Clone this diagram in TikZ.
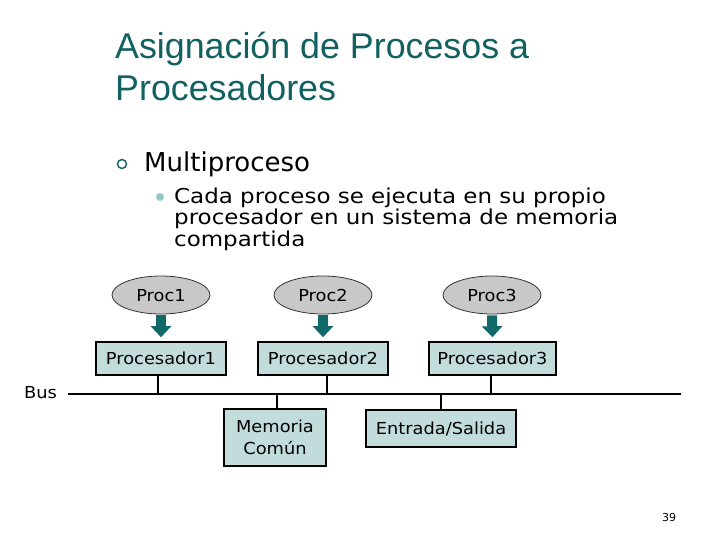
\documentclass[tikz,border=0pt]{standalone}
\usepackage{fontspec}
\setmainfont{DejaVu Sans}
\newfontfamily\wideA[FakeStretch=1.12]{DejaVu Sans}
\newfontfamily\wideB[FakeStretch=1.08]{DejaVu Sans}
\newfontfamily\titlefont{Liberation Sans}
\usetikzlibrary{shapes.geometric,arrows.meta}
\definecolor{titlecol}{RGB}{18,96,96}
\definecolor{arrowcol}{RGB}{16,104,104}
\definecolor{boxfill}{RGB}{194,220,220}
\definecolor{ellfill}{RGB}{200,200,200}
\definecolor{dotcol}{RGB}{150,200,200}
\tikzset{
  titletext/.style={anchor=base west, inner sep=0pt, text=titlecol, font=\titlefont\fontsize{35.8}{40}\selectfont},
  lvlone/.style={anchor=base west, inner sep=0pt, font=\fontsize{26}{30}\selectfont},
  lvltwo/.style={anchor=base west, inner sep=0pt, font=\wideA\fontsize{20.5}{22}\selectfont},
  procell/.style={ellipse, draw=black!80, line width=0.8pt, fill=ellfill, minimum width=98pt, minimum height=38pt, inner sep=0pt, text height=12pt, text depth=0pt, font=\wideB\fontsize{16.5}{18}\selectfont},
  hwbox/.style={rectangle, draw=black, line width=1.6pt, fill=boxfill, minimum height=33pt, inner sep=0pt, font=\wideB\fontsize{16.5}{18}\selectfont},
  blockarrow/.style={draw=arrowcol, line width=10pt, -{Triangle[width=20pt,length=11pt]}},
  wire/.style={line width=1.8pt, black},
}
\begin{document}
\begin{tikzpicture}[x=1pt,y=-1pt]
\useasboundingbox (0,0) rectangle (720,540);
% title
\node[titletext] (t1) at (115,59) {Asignación de Procesos a};
\node[titletext] (t2) at (115,101) {Procesadores};
% bullets
\node[circle, draw=titlecol, line width=1.4pt, minimum size=9pt, inner sep=0pt] (b0) at (122,164) {};
\node[lvlone] (m) at (144,172) {Multiproceso};
\node[circle, fill=dotcol, minimum size=8pt, inner sep=0pt] (b1dot) at (160,197) {};
\node[lvltwo] (l1) at (174,204) {Cada proceso se ejecuta en su propio};
\node[lvltwo] (l2) at (174,225) {procesador en un sistema de memoria};
\node[lvltwo] (l3) at (174,246) {compartida};
% processes
\node[procell] (p1) at (161,295) {Proc1};
\node[procell] (p2) at (323,295) {Proc2};
\node[procell] (p3) at (492,295) {Proc3};
% processors
\node[hwbox, minimum width=130pt] (c1) at (161,358.5) {Procesador1};
\node[hwbox, minimum width=130pt] (c2) at (323,358.5) {Procesador2};
\node[hwbox, minimum width=127pt] (c3) at (492.5,358.5) {Procesador3};
% block arrows
\draw[blockarrow] ([yshift=-1pt]p1.south) -- ([yshift=4pt]c1.north);
\draw[blockarrow] ([yshift=-1pt]p2.south) -- ([yshift=4pt]c2.north);
\draw[blockarrow] ([yshift=-1pt]p3.south) -- ([yshift=4pt]c3.north);
% bus
\coordinate (busL) at (68,394);
\coordinate (busR) at (681,394);
\node[anchor=base west, inner sep=0pt, font=\wideB\fontsize{16.5}{18}\selectfont] (buslbl) at (24,398) {Bus};
\draw[line width=2.8pt] (busL) -- (busR);
% memory / io
\node[hwbox, minimum width=102pt, minimum height=57pt, align=center, font=\wideB\fontsize{16.5}{22}\selectfont] (mem) at (275,437.5) {Memoria\\Común};
\node[hwbox, minimum width=150pt, minimum height=37pt] (io) at (441,428.5) {Entrada/Salida};
% connections
\draw[wire] ([xshift=-3pt]c1.south) -- ([xshift=-3pt]c1.south |- busL);
\draw[wire] ([xshift=4pt]c2.south) -- ([xshift=4pt]c2.south |- busL);
\draw[wire] ([xshift=-1.5pt]c3.south) -- ([xshift=-1.5pt]c3.south |- busL);
\draw[wire] ([xshift=2pt]mem.north) -- ([xshift=2pt]mem.north |- busL);
\draw[wire] (io.north) -- (io.north |- busL);
% page number
\node[font=\fontsize{11}{13}\selectfont] (pg) at (669,517) {39};
\end{tikzpicture}
\end{document}
